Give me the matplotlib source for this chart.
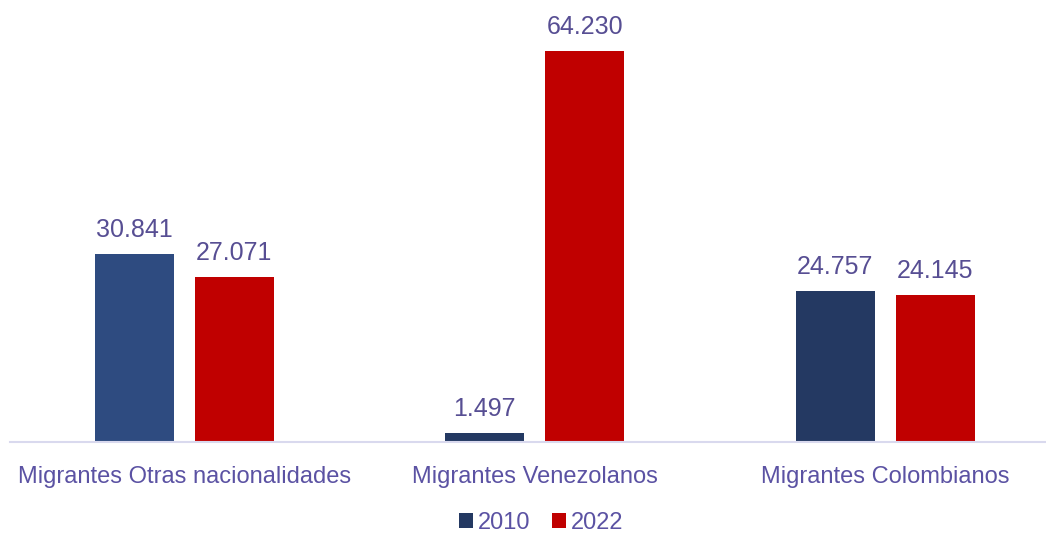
import matplotlib.pyplot as plt
import numpy as np

categories = ['Migrantes Otras nacionalidades', 'Migrantes Venezolanos', 'Migrantes Colombianos']
values_2010 = [30841, 1497, 24757]
values_2022 = [27071, 64230, 24145]
labels_2010 = ['30.841', '1.497', '24.757']
labels_2022 = ['27.071', '64.230', '24.145']

col_2010 = ['#2E4B80', '#243962', '#243962']
col_2022 = '#C00000'
txt = '#574E93'
tick_col = '#5B52A3'

plt.rcParams['font.family'] = ['Liberation Sans', 'DejaVu Sans']

fig = plt.figure(figsize=(10.46, 5.33), dpi=100)
ax = fig.add_axes([10 / 1046, 91 / 533, 1036 / 1046, 426 / 533])

x = np.arange(len(categories))
w = 0.225
off = 0.1425
b1 = ax.bar(x - off, values_2010, w, color=col_2010, label='2010')
b2 = ax.bar(x + off, values_2022, w, color=col_2022, label='2022')

for i in range(len(x)):
    ax.text(x[i] - off, values_2010[i] + 2000, labels_2010[i], ha='center', va='bottom',
            fontsize=18, color=txt)
    ax.text(x[i] + off, values_2022[i] + 2000, labels_2022[i], ha='center', va='bottom',
            fontsize=18, color=txt)

ax.set_xlim(-0.497, 2.459)
ax.set_ylim(0, 70000)
ax.set_xticks(x)
ax.set_xticklabels(categories, fontsize=17, color=tick_col)
ax.tick_params(axis='x', length=0, pad=17)
ax.set_yticks([])
for s in ['top', 'right', 'left']:
    ax.spines[s].set_visible(False)
ax.spines['bottom'].set_color('#D9D9EE')
ax.spines['bottom'].set_linewidth(1.5)

leg = ax.legend(handles=[b1[1], b2[0]], labels=['2010', '2022'], loc='lower center',
                bbox_to_anchor=(531 / 1036, -0.255), ncol=2, frameon=False,
                fontsize=17, handlelength=0.6, handleheight=0.6, handletextpad=0.2,
                columnspacing=0.9, borderpad=0.2)
for t in leg.get_texts():
    t.set_color(tick_col)

plt.savefig('out.png', dpi=100)
